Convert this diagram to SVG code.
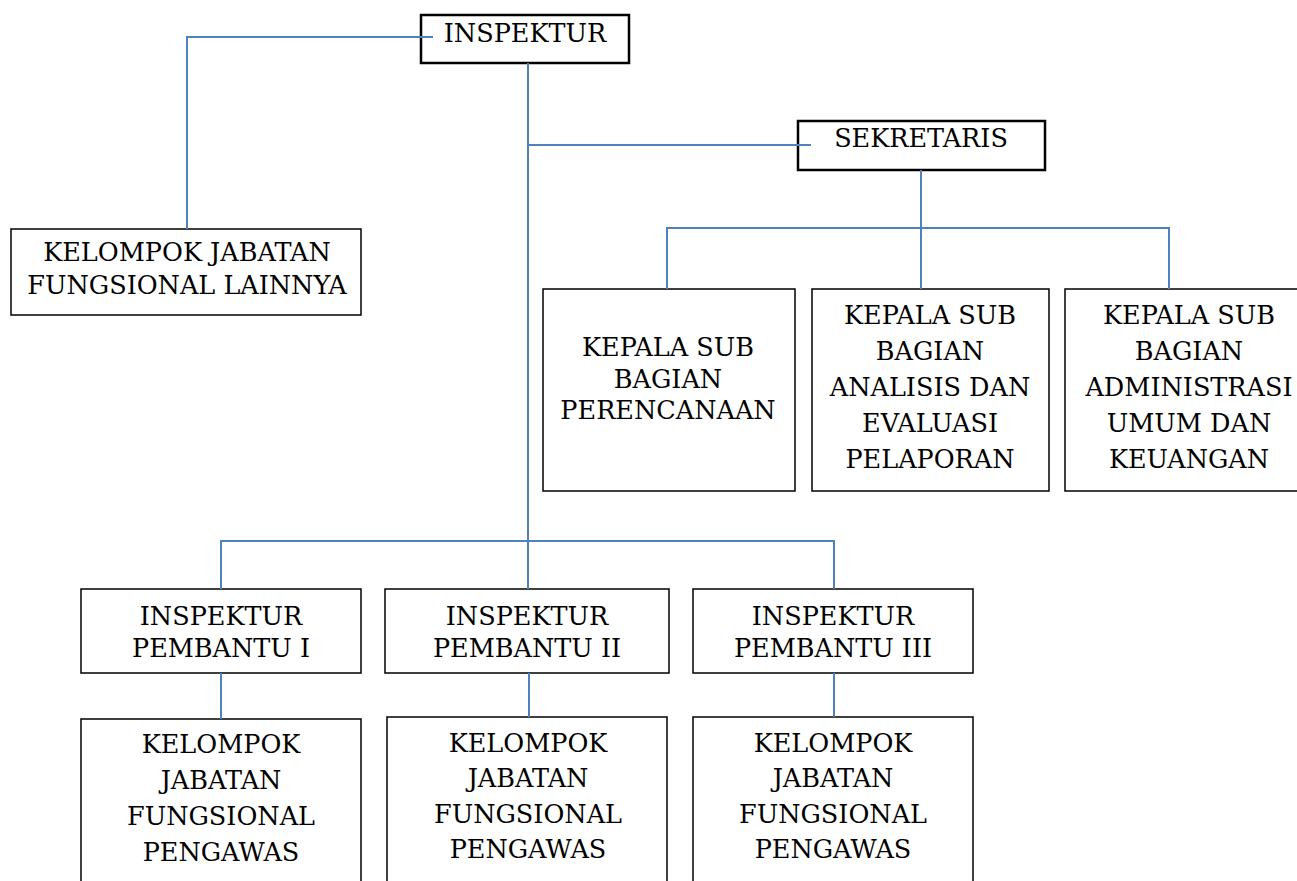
<svg xmlns="http://www.w3.org/2000/svg" width="1297" height="881" viewBox="0 0 1297 881">
<style>
.box{fill:#fff;stroke:#000;stroke-width:1.5}
.boxb{fill:#fff;stroke:#000;stroke-width:2.5}
.t{font-family:"DejaVu Serif","Liberation Serif",serif;font-size:25.5px;fill:#000;text-anchor:middle}
.c{fill:none;stroke:#4F81BD;stroke-width:2}
</style>
<rect width="1297" height="881" fill="#fff"/>
<g id="n-inspektur"><rect class="boxb" x="421" y="15" width="208" height="48"/><text class="t" x="525" y="42">INSPEKTUR</text></g>
<g id="n-kjfl"><rect class="box" x="11" y="229" width="350" height="86"/><text class="t" x="187" y="261">KELOMPOK JABATAN</text><text class="t" x="187" y="294">FUNGSIONAL LAINNYA</text></g>
<g id="n-sekretaris"><rect class="boxb" x="798" y="121" width="247" height="49"/><text class="t" x="921" y="147">SEKRETARIS</text></g>
<g id="n-ksb1"><rect class="box" x="543" y="289" width="252" height="202"/><text class="t" x="668" y="356">KEPALA SUB</text><text class="t" x="668" y="388">BAGIAN</text><text class="t" x="668" y="419">PERENCANAAN</text></g>
<g id="n-ksb2"><rect class="box" x="812" y="289" width="237" height="202"/><text class="t" x="930" y="324">KEPALA SUB</text><text class="t" x="930" y="360">BAGIAN</text><text class="t" x="930" y="396">ANALISIS DAN</text><text class="t" x="930" y="432">EVALUASI</text><text class="t" x="930" y="468">PELAPORAN</text></g>
<g id="n-ksb3"><rect class="box" x="1065" y="289" width="250" height="202"/><text class="t" x="1189" y="324">KEPALA SUB</text><text class="t" x="1189" y="360">BAGIAN</text><text class="t" x="1189" y="396">ADMINISTRASI</text><text class="t" x="1189" y="432">UMUM DAN</text><text class="t" x="1189" y="468">KEUANGAN</text></g>
<g id="n-ip1"><rect class="box" x="81" y="589" width="280" height="84"/><text class="t" x="221" y="625">INSPEKTUR</text><text class="t" x="221" y="657">PEMBANTU I</text></g>
<g id="n-ip2"><rect class="box" x="385" y="589" width="284" height="84"/><text class="t" x="527" y="625">INSPEKTUR</text><text class="t" x="527" y="657">PEMBANTU II</text></g>
<g id="n-ip3"><rect class="box" x="693" y="589" width="280" height="84"/><text class="t" x="833" y="625">INSPEKTUR</text><text class="t" x="833" y="657">PEMBANTU III</text></g>
<g id="n-kjf1"><rect class="box" x="81" y="719" width="280" height="180"/><text class="t" x="221" y="753">KELOMPOK</text><text class="t" x="221" y="789">JABATAN</text><text class="t" x="221" y="825">FUNGSIONAL</text><text class="t" x="221" y="861">PENGAWAS</text></g>
<g id="n-kjf2"><rect class="box" x="387" y="717" width="280" height="180"/><text class="t" x="528" y="752">KELOMPOK</text><text class="t" x="528" y="787">JABATAN</text><text class="t" x="528" y="823">FUNGSIONAL</text><text class="t" x="528" y="858">PENGAWAS</text></g>
<g id="n-kjf3"><rect class="box" x="693" y="717" width="280" height="180"/><text class="t" x="833" y="752">KELOMPOK</text><text class="t" x="833" y="787">JABATAN</text><text class="t" x="833" y="823">FUNGSIONAL</text><text class="t" x="833" y="858">PENGAWAS</text></g>
<g id="connectors">
<path class="c" d="M433,37 H187 V229"/>
<path class="c" d="M528,63 V589"/>
<path class="c" d="M528,145 H811"/>
<path class="c" d="M921,170 V289"/>
<path class="c" d="M667,289 V228 H1169 V289"/>
<path class="c" d="M221,589 V541 H834 V589"/>
<path class="c" d="M221,673 V719"/>
<path class="c" d="M529,673 V717"/>
<path class="c" d="M834,673 V717"/>
</g>
</svg>
